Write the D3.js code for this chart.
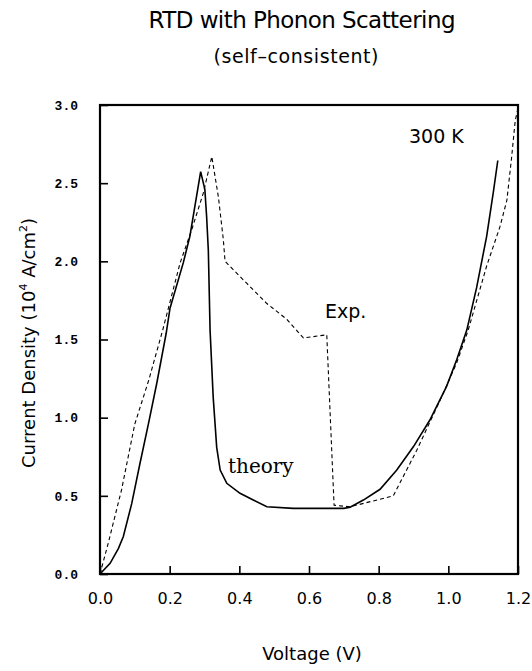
<!DOCTYPE html>
<html>
<head>
<meta charset="utf-8">
<script src="https://cdn.jsdelivr.net/npm/d3@7"></script>
<style>
  body { margin: 0; background: #fff; }
</style>
</head>
<body>
<div id="chart"></div>
<script>
// theory curve (V, J in 10^4 A/cm^2)
const theory = [
  [0, 0], [0.029, 0.068], [0.053, 0.164], [0.067, 0.24], [0.091, 0.45],
  [0.115, 0.71], [0.139, 0.96], [0.163, 1.22], [0.19, 1.54], [0.201, 1.70],
  [0.239, 1.99], [0.258, 2.16], [0.289, 2.574], [0.301, 2.46], [0.306, 2.29],
  [0.311, 2.07], [0.316, 1.56], [0.325, 1.13], [0.335, 0.81], [0.345, 0.665],
  [0.364, 0.58], [0.402, 0.516], [0.44, 0.473], [0.479, 0.43], [0.555, 0.42],
  [0.70, 0.42], [0.718, 0.427], [0.756, 0.473], [0.804, 0.542], [0.852, 0.665],
  [0.9, 0.815], [0.947, 0.985], [0.995, 1.20], [1.024, 1.37], [1.053, 1.56],
  [1.081, 1.83], [1.11, 2.16], [1.129, 2.44], [1.142, 2.645]
]

// experiment
const experiment = [
  [0, 0], [0.024, 0.2], [0.062, 0.54], [0.1, 0.96], [0.14, 1.24],
  [0.18, 1.56], [0.23, 1.99], [0.263, 2.2], [0.297, 2.44], [0.321, 2.67],
  [0.34, 2.41], [0.354, 2.14], [0.359, 2.0], [0.421, 1.86], [0.479, 1.73],
  [0.536, 1.63], [0.584, 1.51], [0.651, 1.53], [0.672, 0.44], [0.718, 0.43],
  [0.842, 0.50], [0.909, 0.79], [0.976, 1.11], [1.024, 1.35], [1.057, 1.56],
  [1.11, 1.97], [1.148, 2.22], [1.168, 2.39], [1.181, 2.65], [1.192, 2.90],
  [1.2, 2.98]
]

const xTicks = [0, 0.2, 0.4, 0.6, 0.8, 1.0, 1.2]
const yTicks = [0, 0.5, 1.0, 1.5, 2.0, 2.5, 3.0]

const width = 532, height = 671
const margin = {top: 105, right: 14, bottom: 97, left: 100}

const svg = d3.select("#chart").append("svg")
  .attr("width", width)
  .attr("height", height)
  .style("display", "block")

let x = d3.scaleLinear()
  .domain([0, 1.2])
  .range([margin.left, width - margin.right])

let y = d3.scaleLinear()
  .domain([0, 3])
  .range([height - margin.bottom, margin.top])

const sans = "'DejaVu Sans', sans-serif"

// frame
svg.append("rect")
  .attr("x", x(0)).attr("y", y(3))
  .attr("width", x(1.2) - x(0)).attr("height", y(0) - y(3))
  .attr("fill", "none")
  .attr("stroke", "#000")
  .attr("stroke-width", 2.2)

// x axis, ticks pointing into the plot
svg.append("g")
  .attr("transform", `translate(0,${y(0)})`)
  .call(d3.axisBottom(x).tickValues(xTicks).tickSize(-8).tickSizeOuter(0).tickPadding(19)
    .tickFormat(d3.format(".1f")))
  .call(g => g.select(".domain").remove())
  .call(g => g.selectAll("line").attr("stroke", "#000").attr("stroke-width", 1.6))
  .call(g => g.selectAll("text").attr("fill", "#000").attr("font-family", sans).attr("font-size", 16))

// y axis
svg.append("g")
  .attr("transform", `translate(${x(0)},0)`)
  .call(d3.axisLeft(y).tickValues(yTicks).tickSize(-8).tickSizeOuter(0).tickPadding(22)
    .tickFormat(d3.format(".1f")))
  .call(g => g.select(".domain").remove())
  .call(g => g.selectAll("line").attr("stroke", "#000").attr("stroke-width", 1.6))
  .call(g => g.selectAll("text")
    .attr("fill", "#000")
    .attr("font-family", "'Liberation Mono', monospace")
    .attr("font-weight", "bold")
    .attr("font-size", 13))

const line = d3.line().x(d => x(d[0])).y(d => y(d[1]))

svg.append("path")
  .datum(experiment)
  .attr("d", line)
  .attr("fill", "none")
  .attr("stroke", "#000")
  .attr("stroke-width", 1.1)
  .attr("stroke-dasharray", "4,3")

svg.append("path")
  .datum(theory)
  .attr("d", line)
  .attr("fill", "none")
  .attr("stroke", "#000")
  .attr("stroke-width", 1.6)

// titles
svg.append("text")
  .attr("x", 302).attr("y", 28)
  .attr("text-anchor", "middle")
  .attr("font-family", sans).attr("font-size", 23)
  .attr("textLength", 307)
  .text("RTD with Phonon Scattering")

svg.append("text")
  .attr("x", 296).attr("y", 63)
  .attr("text-anchor", "middle")
  .attr("font-family", sans).attr("font-size", 19)
  .attr("textLength", 165)
  .text("(self\u2013consistent)")

svg.append("text")
  .attr("x", 312).attr("y", 660)
  .attr("text-anchor", "middle")
  .attr("font-family", sans).attr("font-size", 18)
  .text("Voltage (V)")

const yl = svg.append("text")
  .attr("transform", "translate(35,343) rotate(-90)")
  .attr("text-anchor", "middle")
  .attr("font-family", sans).attr("font-size", 18)
yl.append("tspan").text("Current Density (10")
yl.append("tspan").attr("font-size", 11).attr("dy", -8).text("4")
yl.append("tspan").attr("dy", 8).text(" A/cm")
yl.append("tspan").attr("font-size", 11).attr("dy", -8).text("2")
yl.append("tspan").attr("dy", 8).text(")")

// annotations
svg.append("text")
  .attr("x", 409).attr("y", 143)
  .attr("font-family", sans).attr("font-size", 19)
  .text("300 K")

svg.append("text")
  .attr("x", 325).attr("y", 318)
  .attr("font-family", sans).attr("font-size", 19)
  .text("Exp.")

svg.append("text")
  .attr("x", 228).attr("y", 473)
  .attr("font-family", "'DejaVu Serif', serif").attr("font-size", 20)
  .text("theory")
</script>
</body>
</html>
